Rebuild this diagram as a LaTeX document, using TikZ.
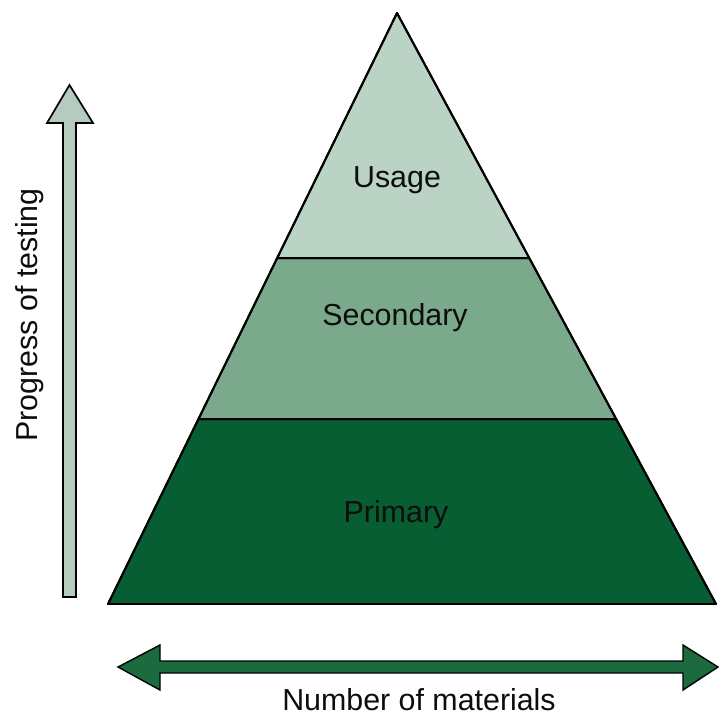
\documentclass[tikz,border=0pt]{standalone}
\usepackage{fontspec}
\setmainfont{Liberation Sans}
\usepackage{xcolor}
\usepackage{tikz}
\usetikzlibrary{calc}

\definecolor{usagegreen}{HTML}{BAD3C4}
\definecolor{secgreen}{HTML}{7BA98B}
\definecolor{primgreen}{HTML}{075E33}
\definecolor{arrowgreen}{HTML}{1C6B3E}

\begin{document}
\begin{tikzpicture}[x=0.025cm, y=-0.025cm,
    layer/.style={draw=black, line width=1.4pt, line join=round},
    lbl/.style={font=\fontsize{21.6}{26}\selectfont, text=black!95},
    every node/.style={inner sep=0pt}]
    \useasboundingbox (0,0) rectangle (720,720);
    % pyramid layers
    \coordinate (apex) at (397,13);
    \coordinate (bl) at (108,604);
    \coordinate (br) at (716,604);
    \coordinate (ul) at ($(apex)!0.4146!(bl)$);
    \coordinate (ur) at ($(apex)!0.4146!(br)$);
    \coordinate (sl) at ($(apex)!0.687!(bl)$);
    \coordinate (sr) at ($(apex)!0.687!(br)$);
    \draw[layer, fill=primgreen] (bl) -- (br) -- (sr) -- (sl) -- cycle;
    \draw[layer, fill=secgreen] (sl) -- (sr) -- (ur) -- (ul) -- cycle;
    \draw[layer, fill=usagegreen] (ul) -- (ur) -- (apex) -- cycle;
    \draw[layer] (bl) -- (br) -- (apex) -- cycle;
    \node[lbl] (usage) at (397,180) {Usage};
    \node[lbl] (secondary) at (395,318) {Secondary};
    \node[lbl] (primary) at (396,515) {Primary};
    % progress arrow
    \draw[line width=1.2pt, line join=miter, fill=usagegreen!90!gray]
        (63,597) -- (63,123) -- (47,123) -- (69.5,85) -- (93,123) -- (76,123) -- (76,597) -- cycle;
    \node[lbl, rotate=90] (progress) at (30,315) {Progress of testing};
    % materials arrow
    \draw[line width=1pt, line join=miter, fill=arrowgreen]
        (118,667) -- (160,645) -- (160,661) -- (683,661) -- (683,645) -- (718,667)
        -- (683,690) -- (683,673) -- (160,673) -- (160,690) -- cycle;
    \node[lbl] (materials) at (419,700) {Number of materials};
\end{tikzpicture}
\end{document}
